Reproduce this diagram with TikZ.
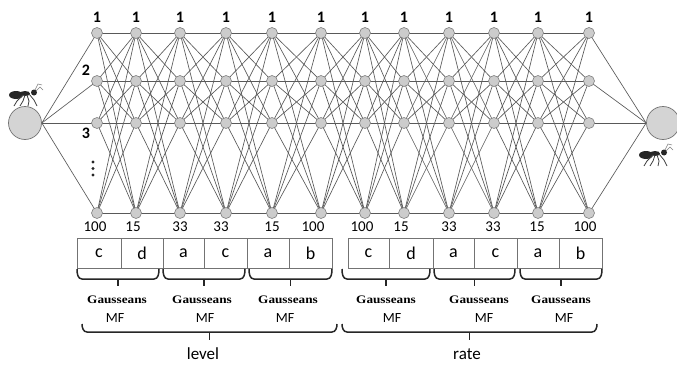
\documentclass[tikz,border=0pt]{standalone}
\usepackage{fontspec}
\setmainfont{Carlito}
\newfontfamily\gssfont{Liberation Serif}
\usetikzlibrary{backgrounds}

\begin{document}
\begin{tikzpicture}[x=1pt,y=-1pt,
  neuron/.style={circle,draw=black!50,fill=black!20,inner sep=0pt,minimum size=11pt,line width=0.6pt},
  bigneuron/.style={circle,draw=black!55,fill=black!17,inner sep=0pt,minimum size=33pt,line width=0.7pt},
  link/.style={draw=black!65,line width=0.65pt},
  toplbl/.style={font=\fontsize{16}{16}\selectfont\bfseries,inner sep=0pt},
  botlbl/.style={font=\fontsize{15}{15}\selectfont,inner sep=0pt},
  cell/.style={draw=black!55,line width=0.6pt,minimum height=30pt,inner sep=0pt,font=\fontsize{18}{18}\selectfont},
  gss/.style={font=\gssfont\bfseries\fontsize{11.5}{11.5}\selectfont,xscale=1.15,inner sep=0pt},
  mflbl/.style={font=\fontsize{14}{14}\selectfont,inner sep=0pt},
  grplbl/.style={font=\fontsize{17}{17}\selectfont,inner sep=0pt},
  bracket/.style={line width=1.5pt,draw=black!85},
  ant/.pic={
    % abdomen, thorax and head
    \fill[black!85] (-10,0) ellipse (7 and 4);
    \fill[black!85] (-1,-1.5) ellipse (5 and 2.5);
    \fill[black!85] (8,-2.5) circle (3);
    % legs
    \draw[black!75,line width=0.8pt]
      (-3,0) -- (-9,6) -- (-12,11)
      (-1,0) -- (-3,6) -- (-6,11)
      (1,0) -- (3,6) -- (2,11)
      (3,-1) -- (8,5) -- (11,11);
    % antennae
    \draw[black!50,line width=0.5pt] (9,-5) -- (12,-11) -- (16,-10)
      (10,-4) -- (14,-8) -- (17,-5);
  }
]
\useasboundingbox (0,0) rectangle (677,364);

% curly bracket: left end, right end, top of the hooks, bar, tip of the stem
\newcommand\groupbracket[5]{%
  \draw[bracket] (#1,#3) to[out=-90,in=180] (#1+5,#4) -- (#2-5,#4) to[out=0,in=-90] (#2,#3);
  \draw[bracket] ({(#1+#2)/2},#4) -- ({(#1+#2)/2},#5);
}

% neurons: 12 columns of 4
\foreach \x [count=\i] in {97,136,180,226,272,321,365,404,449,494,538,589}{
  \foreach \y [count=\j] in {33,81,123,213}{
    \node[neuron] (n\i-\j) at (\x,\y) {};
  }
  \node[toplbl] (top\i) at (\x,17) {1};
}
\node[bigneuron] (inL) at (25,123) {};
\node[bigneuron] (outR) at (663,123) {};

% connections
\begin{pgfonlayer}{background}
  \fill[white] (0,0) rectangle (677,364);
  \foreach \i in {1,...,11}{
    \pgfmathtruncatemacro\k{\i+1}
    \foreach \a in {1,...,4}{
      \foreach \b in {1,...,4}{
        \draw[link] (n\i-\a.center) -- (n\k-\b.center);
      }
    }
  }
  \foreach \j in {1,...,4}{
    \draw[link] (inL.east) -- (n1-\j.center);
    \draw[link] (n12-\j.center) -- (outR.west);
  }
\end{pgfonlayer}

% row labels
\node[toplbl] (r2) at (86,70) {2};
\node[toplbl] (r3) at (86,133) {3};
\foreach \y in {162,168.5,175}{ \fill[black!85] (93,\y) circle (1.6); }

% ants
\pic at (26,95) {ant};
\pic at (656,155) {ant};

% bottom counts
\foreach \x/\t [count=\i] in {95/100,133/15,180/33,221/33,272/15,313/100,
                              362/100,401/15,449/33,493/33,537/15,585/100}{
  \node[botlbl] (cnt\i) at (\x,227) {\t};
}

% parameter cells
\foreach \l/\r/\t [count=\i] in {77/121/c,121/163/d,163/204/a,204/247/c,247/289/a,289/332/b,
                                 348/389/c,389/433/d,433/474/a,474/517/c,517/559/a,559/602/b}{
  \node[cell,minimum width={(\r-\l)*1pt}] (cell\i) at ({(\l+\r)/2},253.5) {\t};
}

% brackets grouping each membership function
\foreach \l/\r in {77/159,163/245,249/332,342/430,434/515,520/602}{
  \groupbracket{\l}{\r}{269}{279}{286}
}
\groupbracket{82}{337}{324}{332}{340}
\groupbracket{342}{597}{324}{332}{340}

% membership function labels
\foreach \x/\m [count=\i] in {117/115,202/205,288/285,386/392,479/484,561/564}{
  \node[gss] (g\i) at (\x,299.5) {Gausseans};
  \node[mflbl] (mf\i) at (\m,318) {MF};
}
\node[grplbl] (lvl) at (203,354) {level};
\node[grplbl] (rt) at (467,354) {rate};
\end{tikzpicture}
\end{document}
